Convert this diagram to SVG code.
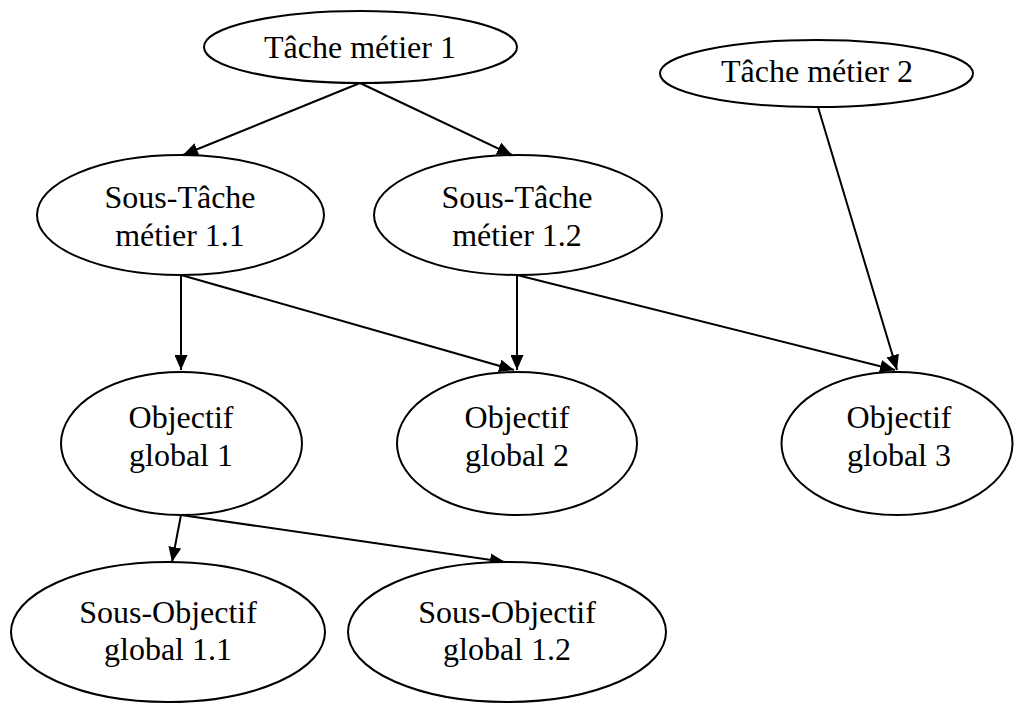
<svg xmlns="http://www.w3.org/2000/svg" width="1014" height="704" viewBox="0 0 1014 704">
<style>
.n ellipse{fill:#fff;stroke:#000;stroke-width:2}
.n text{font-family:"Liberation Serif","Times New Roman",serif;font-size:32px;fill:#000;text-anchor:middle}
.e line{stroke:#000;stroke-width:2;marker-end:url(#ah)}
</style>
<defs>
<marker id="ah" markerUnits="userSpaceOnUse" markerWidth="15" markerHeight="13" refX="15" refY="6.5" orient="auto" viewBox="0 0 15 13">
<path d="M0,0 L15,6.5 L0,13 z" fill="#000"/>
</marker>
</defs>
<rect width="1014" height="704" fill="#fff"/>
<g class="e" id="connectors">
<line x1="360" y1="83" x2="183" y2="155"/>
<line x1="360" y1="83" x2="512" y2="155"/>
<line x1="818" y1="107" x2="897" y2="370"/>
<line x1="181" y1="275" x2="181" y2="370"/>
<line x1="181" y1="275" x2="514" y2="370"/>
<line x1="517" y1="275" x2="517" y2="370"/>
<line x1="517" y1="275" x2="895" y2="370"/>
<line x1="181" y1="515" x2="172" y2="562"/>
<line x1="181" y1="515" x2="505" y2="562"/>
</g>
<g class="n" id="t1"><ellipse cx="360.5" cy="47" rx="156.5" ry="36"/><text x="360" y="58">Tâche métier 1</text></g>
<g class="n" id="t2"><ellipse cx="816.5" cy="73.5" rx="156.5" ry="33.5"/><text x="817" y="82">Tâche métier 2</text></g>
<g class="n" id="st11"><ellipse cx="180.5" cy="215" rx="143.5" ry="60"/><text x="180" y="208">Sous-Tâche</text><text x="180" y="246">métier 1.1</text></g>
<g class="n" id="st12"><ellipse cx="518" cy="215" rx="144" ry="60"/><text x="517" y="208">Sous-Tâche</text><text x="517" y="246">métier 1.2</text></g>
<g class="n" id="og1"><ellipse cx="181.5" cy="443.5" rx="120.5" ry="71.5"/><text x="181" y="428">Objectif</text><text x="181" y="466">global 1</text></g>
<g class="n" id="og2"><ellipse cx="517" cy="443.5" rx="120" ry="71.5"/><text x="517" y="428">Objectif</text><text x="517" y="466">global 2</text></g>
<g class="n" id="og3"><ellipse cx="897" cy="443.5" rx="115.5" ry="71.5"/><text x="899" y="428">Objectif</text><text x="899" y="466">global 3</text></g>
<g class="n" id="so11"><ellipse cx="168" cy="632" rx="157" ry="70"/><text x="168" y="623">Sous-Objectif</text><text x="168" y="660">global 1.1</text></g>
<g class="n" id="so12"><ellipse cx="507" cy="632" rx="159" ry="70"/><text x="507" y="623">Sous-Objectif</text><text x="507" y="660">global 1.2</text></g>
</svg>
